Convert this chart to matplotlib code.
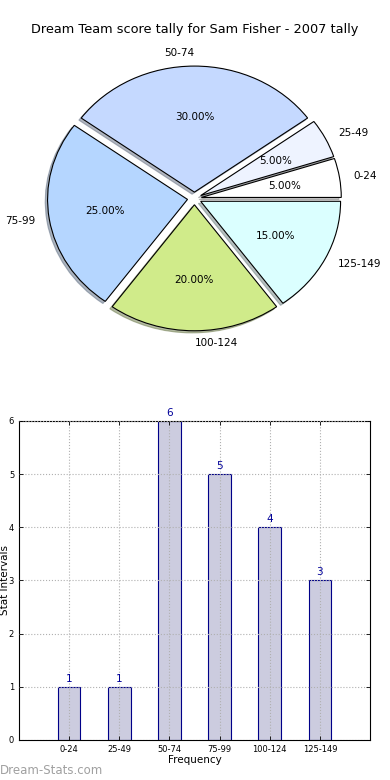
import matplotlib
matplotlib.use("Agg")
from matplotlib import pyplot as plt
import numpy as np

# score bands and how many times each came up
bands = ["0-24", "25-49", "50-74", "75-99", "100-124", "125-149"]
counts = [1, 1, 6, 5, 4, 3]
slice_colors = ["#ffffff", "#eef3ff", "#c5d9ff", "#b5d6ff", "#d0eb8a", "#dbffff"]

fig = plt.figure(figsize=(3.9, 7.8), dpi=100)

# pie on top (old-style, not forced round)
ax1 = fig.add_axes([0.05, 0.5436, 0.897, 0.404])
wedges, texts, autotexts = ax1.pie(
    counts, labels=bands, colors=slice_colors, explode=[0.05] * len(counts),
    autopct="%1.2f%%", shadow=dict(ox=-0.012, oy=-0.012, shade=0.5),
    startangle=0,
    wedgeprops=dict(edgecolor="black", linewidth=0.8),
    textprops=dict(fontsize=7.5))
ax1.set_aspect("auto")
ax1.set_xlim(-1.25, 1.25)
ax1.set_ylim(-1.25, 1.25)
texts[2].set_ha("right")
fig.text(0.5, 0.962, "Dream Team score tally for Sam Fisher - 2007 tally",
         ha="center", va="center", fontsize=9.3)

# bar chart below
ax2 = fig.add_axes([0.0487, 0.0513, 0.9, 0.409])
x = np.arange(len(bands))
ax2.bar(x, counts, width=0.45, color="#ccccdf", edgecolor="#000088",
        linewidth=0.8, zorder=2)
for xi, c in zip(x, counts):
    ax2.text(xi, c + 0.06, str(c), ha="center", va="bottom",
             fontsize=7.5, color="#000099")
ax2.set_xlim(-1, 6)
ax2.set_ylim(0, 6)
ax2.set_xticks(x)
ax2.set_xticklabels(bands)
ax2.set_yticks(range(7))
ax2.tick_params(direction="in", labelsize=6, top=True, right=True,
                length=3, width=0.6)
ax2.grid(True, linestyle=":", color="#b0b0b0", linewidth=0.8, zorder=0)
ax2.set_axisbelow(False)
ax2.set_xlabel("Frequency", fontsize=7.5, labelpad=1)
ax2.set_ylabel("Stat Intervals", fontsize=7.5, va="center")
ax2.yaxis.set_label_coords(-0.04, 0.5)

fig.text(0.0, 0.012, "Dream-Stats.com", ha="left", va="center",
         fontsize=8.5, color="#a0a0a0")

fig.savefig("out.png", dpi=100)
